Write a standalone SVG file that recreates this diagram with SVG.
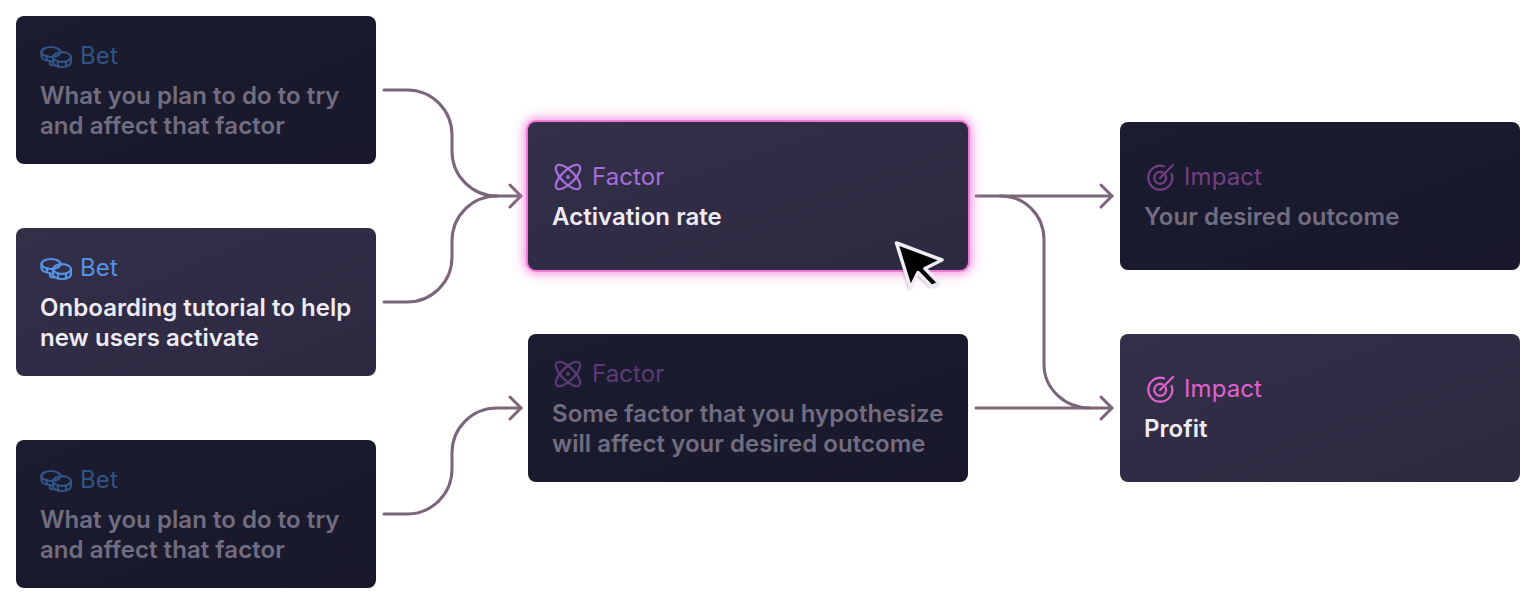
<svg xmlns="http://www.w3.org/2000/svg" width="1536" height="604" viewBox="0 0 1536 604">
<style>
text{font-family:Inter,"Liberation Sans",sans-serif}
.t{font-size:24px;font-weight:600;letter-spacing:.05px}
.k{font-size:24px;font-weight:400;letter-spacing:.1px}
.on{fill:#eeebf4}
.off{fill:#726d80}
.ic{fill:none;stroke-width:2.2;stroke-linecap:round;stroke-linejoin:round}
.c{fill:none;stroke:#7b6679;stroke-width:3;stroke-linecap:round;stroke-linejoin:round}
</style>
<defs>
<linearGradient id="gd" x1="0" y1="0" x2="1" y2="1"><stop offset="0" stop-color="#1b1c30"/><stop offset="1" stop-color="#19182b"/></linearGradient>
<linearGradient id="gl" x1="0" y1="0" x2="1" y2="1"><stop offset="0" stop-color="#342f49"/><stop offset="1" stop-color="#2e2941"/></linearGradient>
<filter id="glow" x="-10%" y="-25%" width="120%" height="150%"><feGaussianBlur stdDeviation="6"/></filter>
<filter id="curs" x="-30%" y="-30%" width="160%" height="160%"><feGaussianBlur stdDeviation="1.5"/></filter>
<g id="coins" class="ic">
<ellipse cx="10" cy="6" rx="9.500" ry="5"/>
<path d="M0.500 6V10C0.500 12.500 4 14.500 9 15"/>
<ellipse cx="21" cy="11" rx="9" ry="4.800"/>
<path d="M12 11V16C12 19 16 21 21 21C26 21 30 19 30 16V11"/>
<path d="M6 10V14M12 16H9V18.500C10 19 11 19.500 12.500 19.500M17 16V20.500M25 16V20.500"/>
</g>
<g id="atom" class="ic">
<ellipse cx="13" cy="13" rx="16" ry="6.500" transform="rotate(45 13 13)"/>
<ellipse cx="13" cy="13" rx="16" ry="6.500" transform="rotate(-45 13 13)"/>
<circle cx="13" cy="13" r="1.200" stroke-width="1.500"/>
</g>
<g id="target" class="ic" stroke-width="2.400">
<path d="M17 2.300A12 12 0 1 0 24.700 10"/>
<path d="M15.500 8.300A6 6 0 1 0 18.700 11.500"/>
<path d="M13 14L26 1"/>
</g>
</defs>

<g id="connectors">
<path class="c" d="M384 90H407C432 90 452 110 452 135V151C452 176 472 196 497 196H521"/>
<path class="c" d="M384 302H407C432 302 452 282 452 257V241C452 216 472 196 497 196"/>
<path class="c" d="M384 514H407C432 514 452 494 452 469V453C452 428 472 408 497 408H521"/>
<path class="c" d="M976 196H1112"/>
<path class="c" d="M976 408H1112"/>
<path class="c" d="M1000 196C1025 196 1044 215 1044 240V364C1044 389 1065 408 1090 408"/>
<path class="c" d="M510 185L521 196L510 207"/>
<path class="c" d="M510 397L521 408L510 419"/>
<path class="c" d="M1101 185L1112 196L1101 207"/>
<path class="c" d="M1101 397L1112 408L1101 419"/>
</g>

<g id="bet1">
<rect x="16" y="16" width="360" height="148" rx="8" fill="url(#gd)"/>
<use href="#coins" x="41" y="46" stroke="#315486"/>
<text class="k" x="80" y="64" fill="#315486">Bet</text>
<text class="t off" x="40" y="104">What you plan to do to try</text>
<text class="t off" x="40" y="134">and affect that factor</text>
</g>
<g id="bet2">
<rect x="16" y="228" width="360" height="148" rx="8" fill="url(#gl)"/>
<use href="#coins" x="41" y="258" stroke="#5593e6"/>
<text class="k" x="80" y="276" fill="#5593e6">Bet</text>
<text class="t on" x="40" y="316">Onboarding tutorial to help</text>
<text class="t on" x="40" y="346">new users activate</text>
</g>
<g id="bet3">
<rect x="16" y="440" width="360" height="148" rx="8" fill="url(#gd)"/>
<use href="#coins" x="41" y="470" stroke="#315486"/>
<text class="k" x="80" y="488" fill="#315486">Bet</text>
<text class="t off" x="40" y="528">What you plan to do to try</text>
<text class="t off" x="40" y="558">and affect that factor</text>
</g>

<g id="factor1">
<rect x="525" y="119" width="446" height="154" rx="10" fill="#f47fdc" filter="url(#glow)"/>
<rect x="527" y="121" width="442" height="150" rx="9" fill="url(#gl)" stroke="#ee7ad8" stroke-width="2"/>
<use href="#atom" x="555" y="164" stroke="#a66fdc"/>
<text class="k" x="592" y="185" fill="#a66fdc">Factor</text>
<text class="t on" x="552" y="225">Activation rate</text>
</g>
<g id="factor2">
<rect x="528" y="334" width="440" height="148" rx="8" fill="url(#gd)"/>
<use href="#atom" x="555" y="361" stroke="#5e3a78"/>
<text class="k" x="592" y="382" fill="#5e3a78">Factor</text>
<text class="t off" x="552" y="422">Some factor that you hypothesize</text>
<text class="t off" x="552" y="452">will affect your desired outcome</text>
</g>

<g id="impact1">
<rect x="1120" y="122" width="400" height="148" rx="8" fill="url(#gd)"/>
<use href="#target" x="1147" y="164" stroke="#743f84"/>
<text class="k" x="1184" y="185" fill="#743f84">Impact</text>
<text class="t off" x="1144" y="225">Your desired outcome</text>
</g>
<g id="impact2">
<rect x="1120" y="334" width="400" height="148" rx="8" fill="url(#gl)"/>
<use href="#target" x="1147" y="376" stroke="#e162cf"/>
<text class="k" x="1184" y="397" fill="#e162cf">Impact</text>
<text class="t on" x="1144" y="437">Profit</text>
</g>

<g id="cursor">
<path d="M896 244L943 261L925 271L939 285L930 288L917 275L909 291Z" fill="#000" opacity=".3" filter="url(#curs)"/>
<path d="M896.500 243L942 260L925 268.500L939 283L931.500 286.500L918 272.500L910.500 288Z" fill="#000" stroke="#efecf5" stroke-width="3.500" stroke-linejoin="round"/>
</g>
</svg>
